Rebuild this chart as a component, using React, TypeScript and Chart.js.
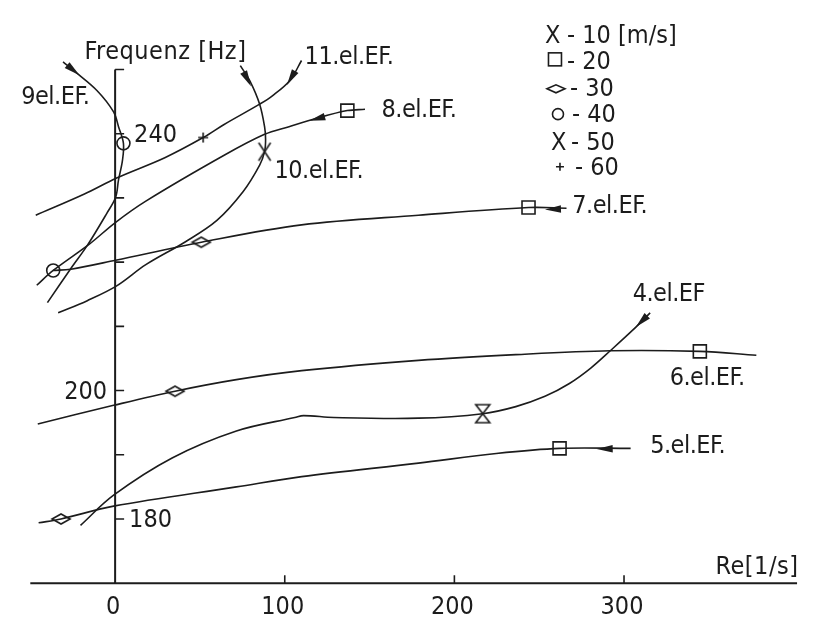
import React, { useEffect, useRef } from "react";
import { Chart, registerables } from "chart.js";

Chart.register(...registerables);

// ---- curve data: Re [1/s] vs Frequenz [Hz] ----
const c4Re = [-20.4, -0.9, 33.6, 71.5, 105.9, 111.1, 128.9, 178.8, 216.7, 236.2, 253.4, 267.8, 280.4, 291.9, 305.1, 315.4];
const c4Hz = [179.0, 183.7, 189.5, 193.7, 195.8, 196.1, 195.8, 195.7, 196.4, 197.5, 199.1, 201.1, 203.5, 206.2, 209.4, 212.1];

const c5Re = [-45.1, -31.9, -0.9, 71.5, 110.0, 178.8, 224.7, 262.0, 303.9];
const c5Hz = [179.4, 180.0, 182.0, 185.0, 186.6, 188.7, 190.2, 191.0, 191.0];

const c6Re = [-45.6, -0.9, 35.3, 71.5, 110.0, 178.8, 236.2, 291.9, 344.7, 378.0];
const c6Hz = [194.8, 197.7, 199.9, 201.7, 203.1, 204.7, 205.6, 206.2, 206.1, 205.5];

const c7Re = [-36.5, -26.1, 0.3, 50.8, 109.9, 178.8, 243.7, 266.1];
const c7Hz = [218.7, 218.9, 220.3, 223.1, 225.8, 227.3, 228.5, 228.4];

const c8Re = [-46.2, -36.5, -15.2, 0.3, 18.1, 64.0, 88.1, 102.5, 117.4, 136.9, 147.3];
const c8Hz = [216.4, 218.7, 222.8, 226.2, 229.5, 236.6, 239.9, 241.1, 242.3, 243.6, 243.8];

const c9Re = [-30.7, -23.8, -10.6, -0.9, 2.0, 4.9, 4.3, 2.0, 0.3, -4.9, -16.4, -26.1, -39.9];
const c9Hz = [251.2, 249.7, 246.7, 243.4, 241.1, 238.5, 235.8, 232.8, 230.1, 227.6, 222.6, 219.0, 213.7];

const c10Re = [73.8, 79.5, 85.2, 88.1, 88.7, 88.1, 85.2, 75.5, 60.0, 41.0, 18.1, 0.9, -16.4, -33.6];
const c10Hz = [250.6, 248.2, 244.6, 241.1, 239.1, 237.2, 235.1, 231.0, 226.5, 223.1, 219.6, 216.3, 214.0, 212.1];

const c11Re = [109.9, 103.0, 92.7, 85.2, 64.0, 51.9, 29.6, 0.9, -18.1, -46.8];
const c11Hz = [251.4, 248.3, 245.9, 244.6, 241.4, 239.4, 236.3, 233.1, 230.6, 227.3];

// ---- markers (wind speed m/s) ----
const m10Re = [216.7];
const m10Hz = [196.4];
const m20Re = [136.9, 243.7, 344.7, 262.0];
const m20Hz = [243.6, 228.5, 206.1, 191.0];
const m30Re = [50.8, 35.3, -31.9];
const m30Hz = [223.1, 199.9, 180.0];
const m40Re = [4.9, -36.5];
const m40Hz = [238.5, 218.7];
const m50Re = [88.1];
const m50Hz = [237.2];
const m60Re = [51.9];
const m60Hz = [239.4];

// ---- arrow heads (tail -> tip) ----
const arrowTailRe = [-30.7, 109.9, 73.8, 136.9, 266.1, 315.4, 303.9];
const arrowTailHz = [251.2, 251.4, 250.6, 243.6, 228.3, 212.1, 191.0];
const arrowTipRe = [-21.0, 101.3, 80.1, 114.5, 253.4, 307.0, 283.9];
const arrowTipHz = [249.1, 247.6, 247.4, 242.0, 228.2, 209.9, 190.9];

// ---- axes ----
const xTickValues = [100, 200, 300];
const xTickLabels = ["0", "100", "200", "300"];
const xTickLabelValues = [0, 100, 200, 300];
const yTickValues = [180, 190, 200, 210, 220, 230, 240, 250];
const yLabelValues = [180, 200, 240];
const yLabelTexts = ["180", "200", "240"];
const axisReMin = -50;
const axisReMax = 402;
const axisHzMin = 170;
const axisHzMax = 250;

// ---- curve labels (anchored at data positions) ----
const labelTexts = ["11.el.EF.", "9el.EF.", "10.el.EF.", "8.el.EF.", "7.el.EF.", "4.el.EF", "6.el.EF.", "5.el.EF."];
const labelRe = [111.7, -55.4, 93.9, 157.0, 269.5, 305.1, 326.9, 315.4];
const labelHz = [250.9, 244.6, 233.1, 242.6, 227.6, 214.0, 200.8, 190.3];

const legendSymbols = ["X", "sq", "di", "o", "X", "+"];
const legendTexts = ["- 10 [m/s]", "- 20", "- 30", "- 40", "- 50", "- 60"];
const legendHz = [254.2, 250.1, 245.9, 241.8, 237.5, 233.6];
const legendRe = 253.4;

const FONT = '"Liberation Sans Narrow", "DejaVu Sans Condensed", "Arial Narrow", sans-serif';
const INK = "#1c1c1c";

function makeSymbol(w: number, h: number, draw: (ctx: CanvasRenderingContext2D) => void) {
  const c = document.createElement("canvas");
  c.width = w;
  c.height = h;
  const ctx = c.getContext("2d")!;
  ctx.strokeStyle = INK;
  ctx.lineWidth = 1.6;
  ctx.lineJoin = "miter";
  draw(ctx);
  return c;
}

function pts(xs: number[], ys: number[]) {
  return xs.map((x, i) => ({ x, y: ys[i] }));
}

export default function App() {
  const ref = useRef<HTMLCanvasElement>(null);

  useEffect(() => {
    const canvas = ref.current!;

    const diamond = makeSymbol(22, 14, (ctx) => {
      ctx.beginPath();
      ctx.moveTo(2, 7);
      ctx.lineTo(11, 2);
      ctx.lineTo(20, 7);
      ctx.lineTo(11, 12);
      ctx.closePath();
      ctx.stroke();
    });
    const hourglass = makeSymbol(18, 22, (ctx) => {
      ctx.beginPath();
      ctx.moveTo(2, 2);
      ctx.lineTo(16, 2);
      ctx.lineTo(2, 20);
      ctx.lineTo(16, 20);
      ctx.closePath();
      ctx.stroke();
    });
    const tallX = makeSymbol(16, 20, (ctx) => {
      ctx.beginPath();
      ctx.moveTo(2, 1);
      ctx.lineTo(14, 19);
      ctx.moveTo(14, 1);
      ctx.lineTo(2, 19);
      ctx.stroke();
    });
    const plus = makeSymbol(12, 12, (ctx) => {
      ctx.beginPath();
      ctx.moveTo(1, 6);
      ctx.lineTo(11, 6);
      ctx.moveTo(6, 1);
      ctx.lineTo(6, 11);
      ctx.stroke();
    });

    const curves: [number[], number[]][] = [
      [c4Re, c4Hz],
      [c5Re, c5Hz],
      [c6Re, c6Hz],
      [c7Re, c7Hz],
      [c8Re, c8Hz],
      [c9Re, c9Hz],
      [c10Re, c10Hz],
      [c11Re, c11Hz],
    ];

    const lineSets = curves.map(([xs, ys]) => ({
      data: pts(xs, ys),
      showLine: true,
      borderColor: INK,
      borderWidth: 1.6,
      pointRadius: 0,
      tension: 0.35,
      fill: false,
    }));

    const markerBase = {
      showLine: false,
      pointBorderColor: INK,
      pointBackgroundColor: "rgba(0,0,0,0)",
      pointBorderWidth: 1.6,
    };

    const markerSets = [
      { ...markerBase, data: pts(m10Re, m10Hz), pointStyle: hourglass, pointRadius: 9 },
      { ...markerBase, data: pts(m20Re, m20Hz), pointStyle: "rect", pointRadius: 9.2 },
      { ...markerBase, data: pts(m30Re, m30Hz), pointStyle: diamond, pointRadius: 9 },
      { ...markerBase, data: pts(m40Re, m40Hz), pointStyle: "circle", pointRadius: 6.5 },
      { ...markerBase, data: pts(m50Re, m50Hz), pointStyle: tallX, pointRadius: 9 },
      { ...markerBase, data: pts(m60Re, m60Hz), pointStyle: plus, pointRadius: 6 },
    ];

    const overlay = {
      id: "overlay",
      afterDatasetsDraw(chart: any) {
        const ctx: CanvasRenderingContext2D = chart.ctx;
        const xs = chart.scales.x;
        const ys = chart.scales.y;
        const X = (v: number) => xs.getPixelForValue(v);
        const Y = (v: number) => ys.getPixelForValue(v);
        ctx.save();
        ctx.strokeStyle = INK;
        ctx.fillStyle = INK;
        ctx.lineWidth = 2;
        ctx.lineCap = "butt";

        // axes
        ctx.beginPath();
        ctx.moveTo(X(axisReMin), Y(axisHzMin));
        ctx.lineTo(X(axisReMax), Y(axisHzMin));
        ctx.moveTo(X(0), Y(axisHzMin));
        ctx.lineTo(X(0), Y(axisHzMax));
        ctx.stroke();
        ctx.lineWidth = 1.6;
        ctx.beginPath();
        yTickValues.forEach((v) => {
          ctx.moveTo(X(0), Y(v));
          ctx.lineTo(X(0) + 9, Y(v));
        });
        xTickValues.forEach((v) => {
          ctx.moveTo(X(v), Y(axisHzMin));
          ctx.lineTo(X(v), Y(axisHzMin) - 8);
        });
        ctx.stroke();

        // arrow heads
        arrowTipRe.forEach((_, i) => {
          const tx = X(arrowTipRe[i]);
          const ty = Y(arrowTipHz[i]);
          const sx = X(arrowTailRe[i]);
          const sy = Y(arrowTailHz[i]);
          const d = Math.hypot(tx - sx, ty - sy) || 1;
          const ux = (tx - sx) / d;
          const uy = (ty - sy) / d;
          const L = 16;
          const W = 3.8;
          const bx = tx - ux * L;
          const by = ty - uy * L;
          ctx.beginPath();
          ctx.moveTo(tx, ty);
          ctx.lineTo(bx - uy * W, by + ux * W);
          ctx.lineTo(bx + uy * W, by - ux * W);
          ctx.closePath();
          ctx.fill();
        });

        // text
        ctx.font = `25px ${FONT}`;
        ctx.textBaseline = "alphabetic";
        ctx.textAlign = "left";
        (ctx as any).letterSpacing = "-0.5px";
        labelTexts.forEach((t, i) => {
          ctx.fillText(t, X(labelRe[i]), Y(labelHz[i]));
        });
        (ctx as any).letterSpacing = "0.5px";

        // axis titles
        ctx.fillText("Frequenz [Hz]", X(-18.1), Y(251.6));
        ctx.fillText("Re[1/s]", X(353.9), Y(171.5));
        (ctx as any).letterSpacing = "0px";

        // x tick labels
        ctx.textAlign = "center";
        xTickLabelValues.forEach((v, i) => {
          ctx.fillText(xTickLabels[i], X(v) - 2, Y(axisHzMin) + 31);
        });
        // y tick labels
        ctx.textBaseline = "middle";
        yLabelValues.forEach((v, i) => {
          if (v === 200) {
            ctx.textAlign = "right";
            ctx.fillText(yLabelTexts[i], X(0) - 8, Y(v) + 2);
          } else {
            ctx.textAlign = "left";
            ctx.fillText(yLabelTexts[i], X(0) + (v === 240 ? 19 : 14), Y(v) + 2);
          }
        });

        // legend
        ctx.textBaseline = "alphabetic";
        ctx.textAlign = "left";
        const lx = X(legendRe);
        legendSymbols.forEach((s, i) => {
          const by = Y(legendHz[i]);
          let tx = lx + 24;
          if (s === "X") {
            ctx.fillText("X", lx + (i === 0 ? 0 : 6), by);
            tx = lx + (i === 0 ? 22 : 26);
          } else if (s === "sq") {
            ctx.strokeRect(lx + 3.5, by - 16, 13, 13);
            tx = lx + 22;
          } else if (s === "di") {
            ctx.beginPath();
            ctx.moveTo(lx + 2, by - 7);
            ctx.lineTo(lx + 11, by - 11);
            ctx.lineTo(lx + 20, by - 7);
            ctx.lineTo(lx + 11, by - 3);
            ctx.closePath();
            ctx.stroke();
            tx = lx + 25;
          } else if (s === "o") {
            ctx.beginPath();
            ctx.arc(lx + 13, by - 8, 5.5, 0, Math.PI * 2);
            ctx.stroke();
            tx = lx + 27;
          } else if (s === "+") {
            ctx.beginPath();
            ctx.moveTo(lx + 11, by - 8);
            ctx.lineTo(lx + 19, by - 8);
            ctx.moveTo(lx + 15, by - 12);
            ctx.lineTo(lx + 15, by - 4);
            ctx.stroke();
            tx = lx + 30;
          }
          ctx.fillText(legendTexts[i], tx, by);
        });
        ctx.restore();
      },
    };

    const chart = new Chart(canvas, {
      type: "scatter",
      data: { datasets: [...lineSets, ...markerSets] as any },
      options: {
        responsive: false,
        animation: false,
        events: [],
        layout: { padding: 0 },
        plugins: { legend: { display: false }, tooltip: { enabled: false } },
        scales: {
          x: { type: "linear", min: -61.5, max: 412.7, display: false },
          y: { type: "linear", min: 164.86, max: 259.14, display: false },
        },
      },
      plugins: [overlay],
    });
    return () => chart.destroy();
  }, []);

  return (
    <div style={{ position: "fixed", left: 0, top: 0, width: 826, height: 627, background: "#fff" }}>
      <canvas ref={ref} width={826} height={627} style={{ display: "block", width: 826, height: 627 }} />
    </div>
  );
}
